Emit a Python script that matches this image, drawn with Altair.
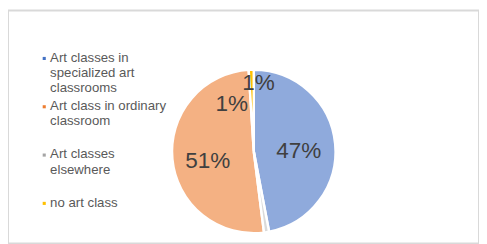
import altair as alt
import pandas as pd

categories = ["Art classes in specialized art classrooms",
              "Art class in ordinary classroom",
              "Art classes elsewhere",
              "no art class"]
legend_lines = ["Art classes in\nspecialized art\nclassrooms",
                "Art class in ordinary\nclassroom",
                "Art classes\nelsewhere",
                "no art class"]
values = [47, 51, 1, 1]
slice_order = [0, 2, 1, 3]          # clockwise order from 12 o'clock
colors = ["#8FAADC", "#F4B183", "#DADADA", "#FFC000"]
symbol_colors = ["#4472C4", "#ED7D31", "#A5A5A5", "#FFC000"]
labels = ["47%", "51%", "1%", "1%"]
label_angle = [90, 258, 335, 4]      # degrees clockwise from 12 o'clock
label_radius = [46, 48, 53, 70]

df = pd.DataFrame({
    "cat": categories, "legend": legend_lines, "value": values,
    "order": slice_order, "label": labels, "la": label_angle,
    "lr": label_radius, "idx": list(range(4)),
})

cx, cy = 251, 144
color_scale = alt.Scale(domain=categories, range=colors)
sym_scale = alt.Scale(domain=categories, range=symbol_colors)

pie = alt.Chart(df).mark_arc(outerRadius=83.5, stroke="white", strokeWidth=2.5).encode(
    theta=alt.Theta("value:Q", stack=True),
    order=alt.Order("order:Q"),
    color=alt.Color("cat:N", scale=color_scale, legend=None),
    x=alt.value(cx), y=alt.value(cy),
)

txt = alt.Chart(df).mark_text(font="Liberation Sans", fontSize=23, color="#404040").encode(
    theta=alt.Theta("la:Q", stack=False,
                    scale=alt.Scale(domain=[0, 360], range=[0, 6.283185307179586])),
    radius=alt.Radius("lr:Q", scale=None),
    text="label:N",
    x=alt.value(cx), y=alt.value(cy),
)

ypos = alt.Y("idx:Q", scale=alt.Scale(domain=[0, 3], range=[49, 197]), axis=None)

sym = alt.Chart(df).mark_square(size=10, opacity=1).encode(
    x=alt.value(37), y=ypos,
    color=alt.Color("cat:N", scale=sym_scale, legend=None),
)

leg = alt.Chart(df).mark_text(font="Liberation Sans", fontSize=13.5, color="#595959",
                              align="left", baseline="top", lineBreak="\n",
                              lineHeight=15.5, dy=-7.5).encode(
    x=alt.value(43), y=ypos, text="legend:N",
)

chart = alt.layer(pie, txt, sym, leg).resolve_scale(
    color="independent", theta="independent"
).properties(
    width=481, height=238, padding=0, autosize="none"
).configure_view(stroke="#D9D9D9", strokeWidth=2)

chart.save("out.html", embed_options={"renderer": "svg", "actions": False})
